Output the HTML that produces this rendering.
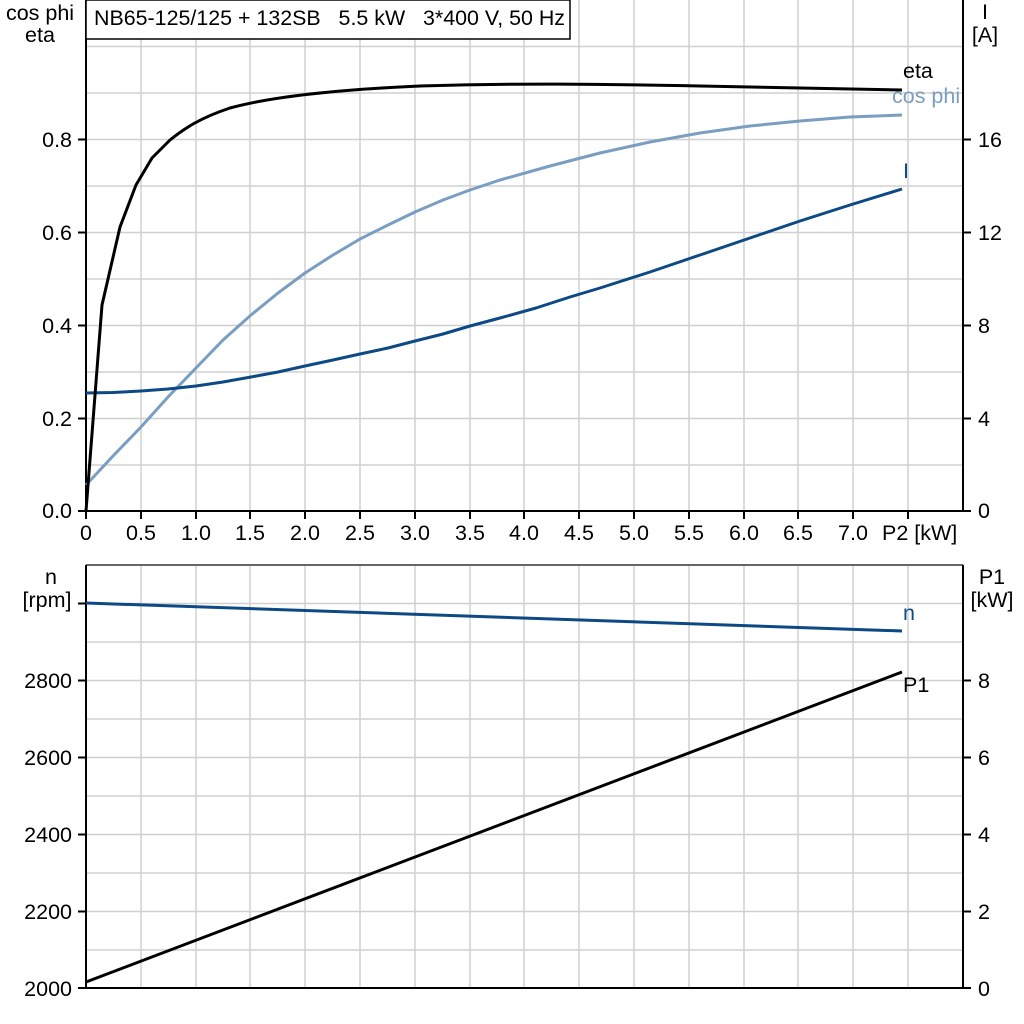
<!DOCTYPE html>
<html><head><meta charset="utf-8"><style>html,body{margin:0;padding:0;background:#fff}svg{display:block}text{font-family:"Liberation Sans",Arial,sans-serif;font-size:21.5px;fill:#000;white-space:pre}</style></head><body>
<svg width="1024" height="1024" viewBox="0 0 1024 1024" xmlns="http://www.w3.org/2000/svg">
<g stroke="#d0d0d0" stroke-width="1.5">
<line x1="141" y1="0" x2="141" y2="511"/><line x1="196" y1="0" x2="196" y2="511"/><line x1="250" y1="0" x2="250" y2="511"/><line x1="305" y1="0" x2="305" y2="511"/><line x1="360" y1="0" x2="360" y2="511"/><line x1="415" y1="0" x2="415" y2="511"/><line x1="470" y1="0" x2="470" y2="511"/><line x1="524" y1="0" x2="524" y2="511"/><line x1="579" y1="0" x2="579" y2="511"/><line x1="634" y1="0" x2="634" y2="511"/><line x1="689" y1="0" x2="689" y2="511"/><line x1="744" y1="0" x2="744" y2="511"/><line x1="798" y1="0" x2="798" y2="511"/><line x1="853" y1="0" x2="853" y2="511"/><line x1="908" y1="0" x2="908" y2="511"/>
<line x1="86" y1="46.5" x2="963" y2="46.5"/><line x1="86" y1="93" x2="963" y2="93"/><line x1="86" y1="139.5" x2="963" y2="139.5"/><line x1="86" y1="186" x2="963" y2="186"/><line x1="86" y1="232.5" x2="963" y2="232.5"/><line x1="86" y1="279" x2="963" y2="279"/><line x1="86" y1="325.5" x2="963" y2="325.5"/><line x1="86" y1="372" x2="963" y2="372"/><line x1="86" y1="418.5" x2="963" y2="418.5"/><line x1="86" y1="465" x2="963" y2="465"/>
<line x1="141" y1="565" x2="141" y2="988"/><line x1="196" y1="565" x2="196" y2="988"/><line x1="250" y1="565" x2="250" y2="988"/><line x1="305" y1="565" x2="305" y2="988"/><line x1="360" y1="565" x2="360" y2="988"/><line x1="415" y1="565" x2="415" y2="988"/><line x1="470" y1="565" x2="470" y2="988"/><line x1="524" y1="565" x2="524" y2="988"/><line x1="579" y1="565" x2="579" y2="988"/><line x1="634" y1="565" x2="634" y2="988"/><line x1="689" y1="565" x2="689" y2="988"/><line x1="744" y1="565" x2="744" y2="988"/><line x1="798" y1="565" x2="798" y2="988"/><line x1="853" y1="565" x2="853" y2="988"/><line x1="908" y1="565" x2="908" y2="988"/>
<line x1="86" y1="603.5" x2="963" y2="603.5"/><line x1="86" y1="642" x2="963" y2="642"/><line x1="86" y1="680.5" x2="963" y2="680.5"/><line x1="86" y1="719" x2="963" y2="719"/><line x1="86" y1="757.5" x2="963" y2="757.5"/><line x1="86" y1="796" x2="963" y2="796"/><line x1="86" y1="834.5" x2="963" y2="834.5"/><line x1="86" y1="873" x2="963" y2="873"/><line x1="86" y1="911.5" x2="963" y2="911.5"/><line x1="86" y1="950" x2="963" y2="950"/>
</g>
<line x1="86" y1="565" x2="963" y2="565" stroke="#666" stroke-width="2"/>
<g stroke="#000" stroke-width="2" fill="none">
<path d="M86 0V511H963V0"/>
<path d="M86 565V988H963V565"/>
<path d="M78 139.5h8M78 232.5h8M78 325.5h8M78 418.5h8M78 511h8"/>
<path d="M963 139.5h8M963 232.5h8M963 325.5h8M963 418.5h8M963 511h8"/>
<path d="M86 511v8M141 511v8M196 511v8M250 511v8M305 511v8M360 511v8M415 511v8M470 511v8M524 511v8M579 511v8M634 511v8M689 511v8M744 511v8M798 511v8M853 511v8M908 511v8"/>
<path d="M78 603.5h8M78 680.5h8M78 757.5h8M78 834.5h8M78 911.5h8M78 988h8"/>
<path d="M963 680.5h8M963 757.5h8M963 834.5h8M963 911.5h8M963 988h8"/>
</g>
<rect x="86" y="0" width="484" height="39" fill="#fff" stroke="#000" stroke-width="1.5"/>
<text x="94" y="25" textLength="471" lengthAdjust="spacingAndGlyphs">NB65-125/125 + 132SB   5.5 kW   3*400 V, 50 Hz</text>
<text x="40" y="20" text-anchor="middle">cos phi</text><text x="40" y="42" text-anchor="middle">eta</text>
<text x="985" y="19" text-anchor="middle">I</text><text x="985" y="42" text-anchor="middle">[A]</text>
<g text-anchor="end"><text x="72" y="147">0.8</text><text x="72" y="240">0.6</text><text x="72" y="333">0.4</text><text x="72" y="426">0.2</text><text x="72" y="518">0.0</text>
<text x="72" y="688">2800</text><text x="72" y="765">2600</text><text x="72" y="842">2400</text><text x="72" y="919">2200</text><text x="72" y="996">2000</text></g>
<g text-anchor="start"><text x="978" y="147">16</text><text x="978" y="240">12</text><text x="978" y="333">8</text><text x="978" y="426">4</text><text x="978" y="518">0</text>
<text x="978" y="688">8</text><text x="978" y="765">6</text><text x="978" y="842">4</text><text x="978" y="919">2</text><text x="978" y="996">0</text></g>
<g text-anchor="middle"><text x="86" y="540">0</text><text x="141" y="540">0.5</text><text x="196" y="540">1.0</text><text x="250" y="540">1.5</text><text x="305" y="540">2.0</text><text x="360" y="540">2.5</text><text x="415" y="540">3.0</text><text x="470" y="540">3.5</text><text x="524" y="540">4.0</text><text x="579" y="540">4.5</text><text x="634" y="540">5.0</text><text x="689" y="540">5.5</text><text x="744" y="540">6.0</text><text x="798" y="540">6.5</text><text x="853" y="540">7.0</text></g>
<text x="882" y="540">P2 [kW]</text>
<text x="51" y="584" text-anchor="middle">n</text><text x="47" y="607" text-anchor="middle">[rpm]</text>
<text x="992" y="584" text-anchor="middle">P1</text><text x="992" y="607" text-anchor="middle">[kW]</text>
<g fill="none" stroke-width="3" stroke-linejoin="round">
<polyline stroke="#7a9ec2" points="86,485 113,456 141,427 168,397 196,368 223,340 251,315 278,293 305,273 333,255 360,239 388,225 415,212 443,200 470,190 500,180 550,166 600,153 650,142 700,133 750,126 800,121 850,117 902,115"/>
<polyline stroke="#0d4a85" points="86,393 113,392.5 141,391 168,389 196,386 223,382 251,377 278,372 305,366 333,360 360,354 388,348 415,341 443,334 470,326 500,318 536,308 570,297 600,288 650,272 700,255 750,238 800,221 850,205 902,189"/>
<path stroke="#000" d="M86 511 L102 305 L120 227 L136 185 L152 158 L170 140 C185 128 200 118 230 108 C270 97 330 90 420 86 C520 83 600 84 700 86 C800 88 860 89 902 90"/>
<path stroke="#0d4a85" d="M86 603 L902 631"/>
<path stroke="#000" d="M86 982 L902 672"/>
</g>
<text x="903" y="78">eta</text>
<text x="892" y="103" style="fill:#7a9ec2">cos phi</text>
<text x="903" y="178" style="fill:#0d4a85">I</text>
<text x="903" y="620" style="fill:#0d4a85">n</text>
<text x="903" y="692">P1</text>
</svg>
</body></html>
